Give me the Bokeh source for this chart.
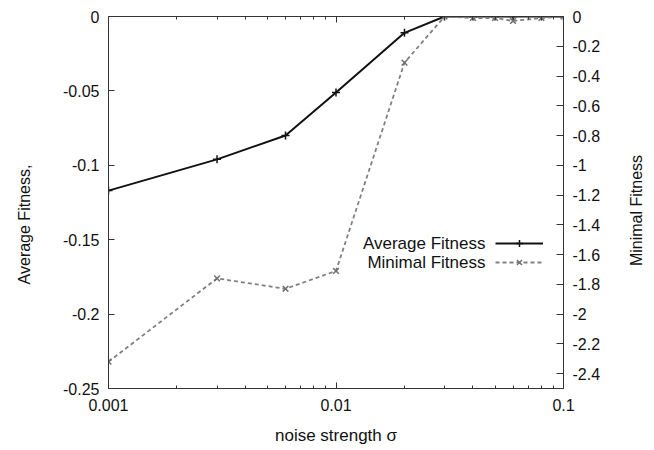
import math
from bokeh.plotting import figure
from bokeh.models import (Range1d, LinearAxis, LogAxis, FixedTicker, CustomJSTickFormatter,
                          Legend, LegendItem, Label)
from bokeh.embed import file_html
from bokeh.resources import INLINE

# ---- data ----
sigma = [0.001, 0.003, 0.006, 0.01, 0.02, 0.03, 0.04, 0.05, 0.06, 0.08, 0.1]
avg_fitness = [-0.117, -0.096, -0.080, -0.051, -0.011, 0.0, 0.0, 0.0, 0.0, 0.0, 0.0]
min_fitness = [-2.32, -1.76, -1.83, -1.71, -0.31, 0.0, -0.01, -0.01, -0.03, -0.01, 0.0]

x_major_ticks = [0.001, 0.01, 0.1]
x_minor_ticks = [0.002, 0.003, 0.004, 0.005, 0.006, 0.007, 0.008, 0.009,
                 0.02, 0.03, 0.04, 0.05, 0.06, 0.07, 0.08, 0.09]
left_ticks = [-0.25, -0.2, -0.15, -0.1, -0.05, 0.0]
right_ticks = [-2.4, -2.2, -2.0, -1.8, -1.6, -1.4, -1.2, -1.0, -0.8, -0.6, -0.4, -0.2, 0.0]

FONT = "Liberation Sans"
TXT = "#111111"
AX = "#333333"

p = figure(width=654, height=450, output_backend="svg", toolbar_location=None,
           x_axis_type="log", x_range=Range1d(0.001, 0.1), y_range=Range1d(-0.25, 0.0),
           min_border_left=108, min_border_right=91, min_border_top=16, min_border_bottom=62,
           background_fill_color="white", border_fill_color="white")
p.extra_y_ranges = {"min": Range1d(-2.5, 0.0)}
p.grid.visible = False
p.outline_line_color = AX
p.outline_line_width = 1

# bottom x axis
xa = p.xaxis[0]
xa.ticker = FixedTicker(ticks=x_major_ticks, minor_ticks=x_minor_ticks)
xa.formatter = CustomJSTickFormatter(code="return Number(tick.toFixed(4)).toString()")
xa.axis_label = "noise strength σ"
xa.major_tick_in = 6
xa.major_tick_out = 0
xa.minor_tick_in = 3
xa.minor_tick_out = 0
xa.major_label_text_font = FONT
xa.major_label_text_font_size = "16px"
xa.major_label_text_color = TXT
xa.major_label_standoff = 10
xa.axis_label_text_font = FONT
xa.axis_label_text_font_size = "17px"
xa.axis_label_text_font_style = "normal"
xa.axis_label_text_color = TXT
xa.axis_label_standoff = 12
xa.axis_line_color = AX
xa.major_tick_line_color = AX
xa.minor_tick_line_color = AX

# top mirror axis (ticks only)
ta = LogAxis(ticker=FixedTicker(ticks=x_major_ticks, minor_ticks=x_minor_ticks),
             formatter=CustomJSTickFormatter(code="return ''"),
             major_tick_in=6, major_tick_out=0, minor_tick_in=3, minor_tick_out=0,
             major_label_standoff=0, major_label_text_font_size="0px",
             axis_line_color=AX, major_tick_line_color=AX, minor_tick_line_color=AX)
p.add_layout(ta, "above")

# left y axis
ya = p.yaxis[0]
ya.ticker = FixedTicker(ticks=left_ticks)
ya.formatter = CustomJSTickFormatter(code="return Number(tick.toFixed(4)).toString()")
ya.major_tick_in = 6
ya.major_tick_out = 0
ya.minor_tick_line_color = None
ya.major_label_text_font = FONT
ya.major_label_text_font_size = "16px"
ya.major_label_text_color = TXT
ya.major_label_standoff = 9
ya.axis_line_color = AX
ya.major_tick_line_color = AX

# right y axis
ra = LinearAxis(y_range_name="min", ticker=FixedTicker(ticks=right_ticks),
                formatter=CustomJSTickFormatter(code="return Number(tick.toFixed(4)).toString()"),
                major_tick_in=7, major_tick_out=0, minor_tick_line_color=None,
                major_label_text_font=FONT, major_label_text_font_size="16px",
                major_label_text_color=TXT, major_label_standoff=9,
                axis_line_color=AX, major_tick_line_color=AX)
p.add_layout(ra, "right")

# data
l1 = p.line(sigma, avg_fitness, line_color="#111111", line_width=2)
m1 = p.scatter(sigma, avg_fitness, marker="cross", size=8, line_color="#111111", line_width=1.5)
l2 = p.line(sigma, min_fitness, y_range_name="min", line_color="#808080", line_width=1.8,
            line_dash="4 3")
m2 = p.scatter(sigma, min_fitness, y_range_name="min", marker="x", size=8,
               line_color="#707070", line_width=1.5)

# legend (samples only; texts as right-aligned labels like gnuplot)
leg = Legend(items=[LegendItem(label=" ", renderers=[l1, m1]),
                    LegendItem(label=" ", renderers=[l2, m2])],
             location=(387, 117), glyph_width=48, glyph_height=18, label_height=18,
             label_width=0, label_standoff=0, spacing=1, padding=0, margin=0,
             border_line_color=None, background_fill_alpha=0,
             label_text_font_size="1px")
p.add_layout(leg)

for txt, yy in [("Average Fitness", 145), ("Minimal Fitness", 126)]:
    p.add_layout(Label(x=377, y=yy, x_units="screen", y_units="screen", text=txt,
                       text_align="right", text_baseline="middle", text_font=FONT,
                       text_font_size="17px", text_color=TXT))

# y axis titles placed in the side panels (not clipped to the frame)
p.add_layout(Label(x=-19, y=164, x_units="screen", y_units="screen", text="Average Fitness,",
                   angle=math.pi / 2, text_align="center", text_baseline="middle",
                   text_font=FONT, text_font_size="16px", text_color=TXT), "left")
p.add_layout(Label(x=33, y=178, x_units="screen", y_units="screen", text="Minimal Fitness",
                   angle=math.pi / 2, text_align="center", text_baseline="middle",
                   text_font=FONT, text_font_size="16px", text_color=TXT), "right")

open("out.html", "w").write(file_html(p, INLINE))
